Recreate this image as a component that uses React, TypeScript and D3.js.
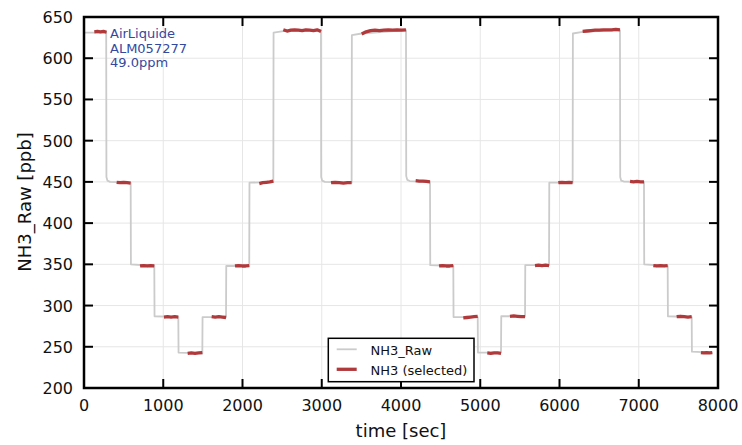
import React from "react";
import * as d3 from "d3";

const xTicks = [0, 1000, 2000, 3000, 4000, 5000, 6000, 7000, 8000];
const yTicks = [200, 250, 300, 350, 400, 450, 500, 550, 600, 650];

const rawTime = [0, 280, 283, 296, 330, 589, 592, 887, 890, 1190, 1193, 1493, 1496, 1792, 1795, 2085, 2088, 2389, 2392, 2515, 2990, 2993, 3006, 3040, 3377, 3380, 3504, 4063, 4066, 4079, 4110, 4366, 4369, 4660, 4663, 4968, 4971, 5262, 5265, 5565, 5568, 5868, 5871, 6166, 6169, 6292, 6763, 6766, 6779, 6810, 7066, 7069, 7365, 7368, 7668, 7671, 7930];
const rawValue = [631, 631, 456, 451.5, 450, 449, 350, 348, 287, 286, 243, 242, 286, 286, 348, 348, 449, 450, 631, 633, 634, 456, 451.5, 450, 449, 628, 630, 634, 457, 452.5, 451, 450, 349, 348, 286, 286, 243, 243, 287, 287, 349, 349, 449, 449, 630, 632, 634, 456, 451.5, 450.5, 450, 350, 348, 287, 286, 244, 243];

const selStart = [130, 412, 707, 1009, 1308, 1611, 1905, 2212, 2515, 3117, 3504, 4185, 4480, 4786, 5089, 5375, 5691, 5985, 6292, 6890, 7184, 7478, 7785];
const selEnd = [285, 589, 887, 1190, 1493, 1792, 2085, 2389, 2990, 3377, 4063, 4366, 4660, 4968, 5262, 5565, 5868, 6166, 6763, 7066, 7365, 7668, 7928];
const selValues = [
  [632, 632.5, 632, 632.5, 631.5],
  [449.5, 449, 449.5, 449, 448.5],
  [348, 348.5, 348, 348.5, 348],
  [286, 286.5, 286, 286.5, 286],
  [242, 242.5, 242, 242.5, 243],
  [286.5, 286, 286.5, 286, 285.5],
  [348, 348.5, 348, 348, 348.5],
  [448, 449, 449.5, 450, 451],
  [634.5, 633, 634, 634.5, 634, 633.5, 634.5, 634, 633.5, 634.5, 632.5],
  [449, 449.5, 449, 448.5, 449, 449],
  [629.5, 632, 633.5, 634, 633.5, 634, 634.5, 634, 634.5, 634, 634.5],
  [451.5, 451, 451, 450.5, 450],
  [348, 348.5, 348, 348, 348.5],
  [285, 285.5, 286, 286.5, 287],
  [242.5, 242, 242.5, 242.5, 242],
  [287, 287.5, 287, 286.5, 286.5],
  [348.5, 349, 348.5, 349, 348.5],
  [449, 449.5, 449, 449.5, 449],
  [632.5, 633, 633.5, 634, 634, 634.5, 634.5, 634.5, 635, 634.5],
  [450.5, 450, 450.5, 450, 450],
  [348.5, 348, 348.5, 348, 348.5],
  [286.5, 287, 286.5, 286, 286.5],
  [243, 242.5, 243, 242.5, 243],
];

const annotation = ["AirLiquide", "ALM057277", "49.0ppm"];
const legendLabels = ["NH3_Raw", "NH3 (selected)"];

const W = 742;
const H = 445;
const X0 = 84, X1 = 718, Y0 = 17, Y1 = 388;
const FONT = "DejaVu Sans, Verdana, sans-serif";
const GRAY = "#cbcbcb";
const RED = "#b0393b";
const BLUE = "#3448a0";

export default function App() {
  const x = d3.scaleLinear().domain([0, 8000]).range([X0, X1]);
  const y = d3.scaleLinear().domain([200, 650]).range([Y1, Y0]);
  const line = d3.line<[number, number]>().x((d) => x(d[0])).y((d) => y(d[1]));

  const rawPts: [number, number][] = rawTime.map((t, i) => [t, rawValue[i]]);
  const selPaths = selValues.map((vals, i) => {
    const s = selStart[i], e = selEnd[i];
    const pts: [number, number][] = vals.map((v, j) => [s + ((e - s) * j) / (vals.length - 1), v]);
    return line(pts) || "";
  });

  const tickLen = 9;
  return (
    <svg width={W} height={H} style={{ position: "absolute", left: 0, top: 0, background: "#fff" }} fontFamily={FONT}>
      <rect x={0} y={0} width={W} height={H} fill="#fff" />
      {xTicks.map((t) => (
        <line key={"gx" + t} x1={x(t)} x2={x(t)} y1={Y0} y2={Y1} stroke="#e6e6e6" strokeWidth={1} />
      ))}
      {yTicks.map((t) => (
        <line key={"gy" + t} x1={X0} x2={X1} y1={y(t)} y2={y(t)} stroke="#e6e6e6" strokeWidth={1} />
      ))}
      <path d={line(rawPts) || ""} fill="none" stroke={GRAY} strokeWidth={1.8} strokeLinejoin="round" />
      {selPaths.map((d, i) => (
        <path key={"s" + i} d={d} fill="none" stroke={RED} strokeWidth={3.3} strokeLinecap="butt" strokeLinejoin="round" />
      ))}
      {xTicks.map((t) => (
        <g key={"tx" + t}>
          <line x1={x(t)} x2={x(t)} y1={Y1} y2={Y1 - tickLen} stroke="#000" strokeWidth={2} />
          <line x1={x(t)} x2={x(t)} y1={Y0} y2={Y0 + tickLen} stroke="#000" strokeWidth={2} />
          <text x={x(t)} y={411} textAnchor="middle" fontSize={16} fill="#111">{t}</text>
        </g>
      ))}
      {yTicks.map((t) => (
        <g key={"ty" + t}>
          <line x1={X0} x2={X0 + tickLen} y1={y(t)} y2={y(t)} stroke="#000" strokeWidth={2} />
          <line x1={X1} x2={X1 - tickLen} y1={y(t)} y2={y(t)} stroke="#000" strokeWidth={2} />
          <text x={73} y={y(t) + 6} textAnchor="end" fontSize={16} fill="#111">{t}</text>
        </g>
      ))}
      <rect x={X0} y={Y0} width={X1 - X0} height={Y1 - Y0} fill="none" stroke="#000" strokeWidth={2.5} />
      <text x={401} y={437} textAnchor="middle" fontSize={18} fill="#111">time [sec]</text>
      <text transform={`translate(30.5, 202) rotate(-90)`} textAnchor="middle" fontSize={18} fill="#111">NH3_Raw [ppb]</text>
      {annotation.map((s, i) => (
        <text key={"a" + i} x={110} y={38.3 + i * 14.2} fontSize={13} fill={BLUE}>{s}</text>
      ))}
      <rect x={328.3} y={338.3} width={145.7} height={43.4} fill="#fff" stroke="#000" strokeWidth={1.5} />
      <line x1={336.7} x2={356.7} y1={349.3} y2={349.3} stroke={GRAY} strokeWidth={1.8} />
      <line x1={336.7} x2={356.7} y1={369.3} y2={369.3} stroke={RED} strokeWidth={3.3} />
      <text x={370.5} y={355} fontSize={13} fill="#111">{legendLabels[0]}</text>
      <text x={370.5} y={374.5} fontSize={13} fill="#111">{legendLabels[1]}</text>
    </svg>
  );
}
